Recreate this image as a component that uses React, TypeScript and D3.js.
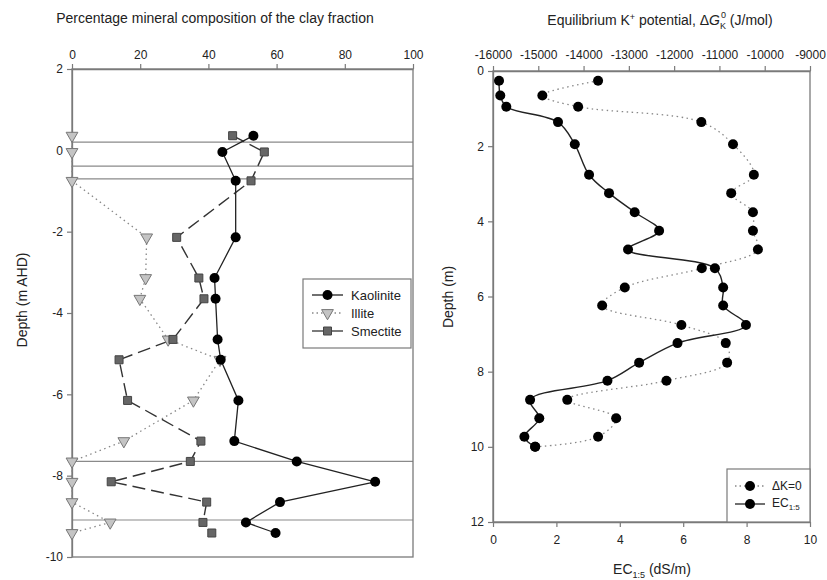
import { useRef, useEffect } from 'react';
import * as d3 from 'd3';

// left panel: clay mineralogy vs depth (m AHD)
const clayDepths = [0.36, -0.04, -0.75, -2.14, -3.14, -3.65, -4.65, -5.15, -6.15, -7.15, -7.65, -8.15, -8.65, -9.15, -9.41];
const kaolinite = [53.2, 44.1, 48.0, 48.0, 41.8, 42.1, 42.7, 43.6, 48.8, 47.6, 65.9, 88.9, 61.0, 51.0, 59.7];
const illite = [0, 0, 0, 21.9, 21.6, 19.9, 28.2, 43.4, 35.6, 15.2, 0, 0, 0, 11.2, 0];
const smectite = [47.1, 56.4, 52.5, 30.7, 37.2, 38.7, 29.6, 13.8, 16.3, 37.8, 34.7, 11.5, 39.5, 38.4, 41.0];
const boundaryDepths = [0.2, -0.39, -0.7, -7.65, -9.09];
const pctTicks = [0, 20, 40, 60, 80, 100];
const ahdTicks = [2, 0, -2, -4, -6, -8, -10];

// right panel: EC and equilibrium K potential vs depth (m)
const ecDepths = [0.26, 0.65, 0.95, 1.36, 1.95, 2.76, 3.25, 3.76, 4.25, 4.75, 5.25, 5.76, 6.24, 6.76, 7.24, 7.76, 8.24, 8.75, 9.24, 9.73, 10.0];
const ec15 = [0.19, 0.23, 0.42, 2.05, 2.58, 3.03, 3.66, 4.47, 5.24, 4.26, 7.0, 7.26, 7.26, 7.98, 5.82, 4.61, 3.61, 1.17, 1.46, 0.99, 1.33];
const deltaK0 = [-13680, -14910, -14120, -11400, -10700, -10240, -10740, -10260, -10260, -10150, -11390, -13090, -13590, -11840, -10860, -10830, -12170, -14360, -13280, -13680, -15070];
const ecTicks = [0, 2, 4, 6, 8, 10];
const gTicks = [-16000, -15000, -14000, -13000, -12000, -11000, -10000, -9000];
const depthTicks = [0, 2, 4, 6, 8, 10, 12];

const FONT = '"Liberation Sans", Arial, sans-serif';
const AXIS = '#7a7a7a';
const R = 5;

function App() {
    const svgRef = useRef(null);

    useEffect(() => {
        const svg = d3.select(svgRef.current);
        svg.selectAll('*').remove();
        svg.style('font-family', FONT);

        const styleAxis = (g) => {
            g.selectAll('path').attr('stroke', AXIS).attr('stroke-width', 1.3);
            g.selectAll('line').attr('stroke', AXIS).attr('stroke-width', 1.2);
            g.selectAll('text').attr('fill', '#222').style('font-size', '12px').style('font-family', FONT);
        };

        // ---------- left panel ----------
        const xL = d3.scaleLinear().domain([0, 100]).range([72, 413]);
        const yL = d3.scaleLinear().domain([2, -10]).range([69, 557]);

        const left = svg.append('g');

        left.selectAll('line.bound')
            .data(boundaryDepths)
            .enter()
            .append('line')
            .attr('x1', xL(0)).attr('x2', xL(100))
            .attr('y1', d => yL(d)).attr('y2', d => yL(d))
            .attr('stroke', '#8a8a8a').attr('stroke-width', 1.2);

        left.append('rect')
            .attr('x', xL(0)).attr('y', yL(2))
            .attr('width', xL(100) - xL(0)).attr('height', yL(-10) - yL(2))
            .attr('fill', 'none').attr('stroke', AXIS).attr('stroke-width', 1.3);

        left.append('g')
            .attr('transform', `translate(0,${yL(2)})`)
            .call(d3.axisTop(xL).tickValues(pctTicks).tickSize(5).tickSizeOuter(0).tickPadding(5).tickFormat(d => String(d)))
            .call(styleAxis);
        left.append('g')
            .attr('transform', `translate(${xL(0)},0)`)
            .call(d3.axisLeft(yL).tickValues(ahdTicks).tickSize(5).tickSizeOuter(0).tickPadding(4).tickFormat(d => String(d)))
            .call(styleAxis);

        const lineL = (vals) => d3.line()
            .x((d, i) => xL(vals[i]))
            .y((d) => yL(d));

        left.append('path')
            .attr('d', lineL(illite)(clayDepths))
            .attr('fill', 'none').attr('stroke', '#888').attr('stroke-width', 1.3)
            .attr('stroke-dasharray', '1.5,3.5');
        left.append('path')
            .attr('d', lineL(smectite)(clayDepths.slice(0, -1)))
            .attr('fill', 'none').attr('stroke', '#333').attr('stroke-width', 1.4)
            .attr('stroke-dasharray', '13,6');
        left.append('path')
            .attr('d', lineL(kaolinite)(clayDepths))
            .attr('fill', 'none').attr('stroke', '#222').attr('stroke-width', 1.3);

        const tri = d3.symbol().type(d3.symbolTriangle).size(60)();
        const sq = d3.symbol().type(d3.symbolSquare).size(64)();

        left.selectAll('path.ill')
            .data(clayDepths)
            .enter()
            .append('path')
            .attr('d', tri)
            .attr('transform', (d, i) => `translate(${xL(illite[i])},${yL(d)}) rotate(180)`)
            .attr('fill', '#c4c4c4').attr('stroke', '#777').attr('stroke-width', 1);
        left.selectAll('path.sme')
            .data(clayDepths)
            .enter()
            .append('path')
            .attr('d', sq)
            .attr('transform', (d, i) => `translate(${xL(smectite[i])},${yL(d)})`)
            .attr('fill', '#666').attr('stroke', '#444').attr('stroke-width', 1);
        left.selectAll('circle.kao')
            .data(clayDepths)
            .enter()
            .append('circle')
            .attr('cx', (d, i) => xL(kaolinite[i])).attr('cy', d => yL(d))
            .attr('r', R).attr('fill', '#000');

        left.append('text')
            .attr('x', 215).attr('y', 23)
            .attr('text-anchor', 'middle').style('font-size', '14px').attr('fill', '#222')
            .text('Percentage mineral composition of the clay fraction');
        left.append('text')
            .attr('transform', 'translate(27,300) rotate(-90)')
            .attr('text-anchor', 'middle').style('font-size', '14px').attr('fill', '#222')
            .text('Depth (m AHD)');

        // legend left
        const legL = left.append('g');
        legL.append('rect')
            .attr('x', 303).attr('y', 279).attr('width', 108).attr('height', 69)
            .attr('fill', '#fff').attr('stroke', AXIS).attr('stroke-width', 1.2);
        const legItems = [
            { name: 'Kaolinite', dash: null, stroke: '#222', mark: 'c' },
            { name: 'Illite', dash: '1.5,3', stroke: '#888', mark: 't' },
            { name: 'Smectite', dash: null, stroke: '#333', mark: 's' },
        ];
        legItems.forEach((it, i) => {
            const yy = 295 + i * 18;
            legL.append('line')
                .attr('x1', 312).attr('x2', 343).attr('y1', yy).attr('y2', yy)
                .attr('stroke', it.stroke).attr('stroke-width', 1.3)
                .attr('stroke-dasharray', it.dash);
            if (it.mark === 'c') {
                legL.append('circle').attr('cx', 327.5).attr('cy', yy).attr('r', R).attr('fill', '#000');
            } else if (it.mark === 't') {
                legL.append('path').attr('d', tri)
                    .attr('transform', `translate(327.5,${yy}) rotate(180)`)
                    .attr('fill', '#c4c4c4').attr('stroke', '#777');
            } else {
                legL.append('path').attr('d', sq)
                    .attr('transform', `translate(327.5,${yy})`)
                    .attr('fill', '#666').attr('stroke', '#444');
            }
            legL.append('text')
                .attr('x', 351).attr('y', yy).attr('dy', '0.35em')
                .style('font-size', '13px').attr('fill', '#222')
                .text(it.name);
        });

        // ---------- right panel ----------
        const xR = d3.scaleLinear().domain([0, 10]).range([493, 810]);
        const xG = d3.scaleLinear().domain([-16000, -9000]).range([493, 810]);
        const yR = d3.scaleLinear().domain([0, 12]).range([71, 522]);

        const right = svg.append('g');
        right.append('rect')
            .attr('x', xR(0)).attr('y', yR(0))
            .attr('width', xR(10) - xR(0)).attr('height', yR(12) - yR(0))
            .attr('fill', 'none').attr('stroke', AXIS).attr('stroke-width', 1.3);

        right.append('g')
            .attr('transform', `translate(0,${yR(0)})`)
            .call(d3.axisTop(xG).tickValues(gTicks).tickSize(5).tickSizeOuter(0).tickPadding(7).tickFormat(d => String(d)))
            .call(styleAxis);
        right.append('g')
            .attr('transform', `translate(0,${yR(12)})`)
            .call(d3.axisBottom(xR).tickValues(ecTicks).tickSize(5).tickSizeOuter(0).tickPadding(8).tickFormat(d => String(d)))
            .call(styleAxis);
        right.append('g')
            .attr('transform', `translate(${xR(0)},0)`)
            .call(d3.axisLeft(yR).tickValues(depthTicks).tickSize(5).tickSizeOuter(0).tickPadding(4).tickFormat(d => String(d)))
            .call(styleAxis);

        const curve = d3.curveCatmullRom.alpha(0.5);
        const gLine = d3.line().x((d, i) => xG(deltaK0[i])).y(d => yR(d)).curve(curve);
        const ecLine = d3.line().x((d, i) => xR(ec15[i])).y(d => yR(d)).curve(curve);

        right.append('path')
            .attr('d', gLine(ecDepths))
            .attr('fill', 'none').attr('stroke', '#888').attr('stroke-width', 1.3)
            .attr('stroke-dasharray', '1.5,3.5');
        right.append('path')
            .attr('d', ecLine(ecDepths))
            .attr('fill', 'none').attr('stroke', '#222').attr('stroke-width', 1.4);

        right.selectAll('circle.g')
            .data(ecDepths)
            .enter()
            .append('circle')
            .attr('cx', (d, i) => xG(deltaK0[i])).attr('cy', d => yR(d))
            .attr('r', R).attr('fill', '#000');
        right.selectAll('circle.ec')
            .data(ecDepths)
            .enter()
            .append('circle')
            .attr('cx', (d, i) => xR(ec15[i])).attr('cy', d => yR(d))
            .attr('r', R).attr('fill', '#000');

        // titles right
        const tTop = right.append('text')
            .attr('x', 660).attr('y', 25)
            .attr('text-anchor', 'middle').style('font-size', '14px').attr('fill', '#222');
        tTop.append('tspan').text('Equilibrium K');
        tTop.append('tspan').attr('dy', -5).style('font-size', '9px').text('+');
        tTop.append('tspan').attr('dy', 5).text(' potential, \u0394');
        tTop.append('tspan').style('font-style', 'italic').text('G');
        tTop.append('tspan').attr('dy', 4).style('font-size', '9px').text('K');
        tTop.append('tspan').attr('dx', -5).attr('dy', -11).style('font-size', '9px').text('0');
        tTop.append('tspan').attr('dy', 7).text(' (J/mol)');

        const tBot = right.append('text')
            .attr('x', 652).attr('y', 574)
            .attr('text-anchor', 'middle').style('font-size', '14px').attr('fill', '#222');
        tBot.append('tspan').text('EC');
        tBot.append('tspan').attr('dy', 4).style('font-size', '9px').text('1:5');
        tBot.append('tspan').attr('dy', -4).text(' (dS/m)');

        right.append('text')
            .attr('transform', 'translate(453,297) rotate(-90)')
            .attr('text-anchor', 'middle').style('font-size', '14px').attr('fill', '#222')
            .text('Depth (m)');

        // legend right
        const legR = right.append('g');
        legR.append('rect')
            .attr('x', 727).attr('y', 469).attr('width', 83).attr('height', 53)
            .attr('fill', '#fff').attr('stroke', AXIS).attr('stroke-width', 1.2);
        [
            { dash: '1.5,3', stroke: '#888', y: 486 },
            { dash: null, stroke: '#222', y: 504 },
        ].forEach((it) => {
            legR.append('line')
                .attr('x1', 735).attr('x2', 765).attr('y1', it.y).attr('y2', it.y)
                .attr('stroke', it.stroke).attr('stroke-width', 1.3)
                .attr('stroke-dasharray', it.dash);
            legR.append('circle').attr('cx', 750).attr('cy', it.y).attr('r', R).attr('fill', '#000');
        });
        legR.append('text')
            .attr('x', 772).attr('y', 486).attr('dy', '0.35em')
            .style('font-size', '12px').attr('fill', '#222')
            .text('\u0394K=0');
        const lt = legR.append('text')
            .attr('x', 772).attr('y', 503).attr('dy', '0.35em')
            .style('font-size', '12px').attr('fill', '#222');
        lt.append('tspan').text('EC');
        lt.append('tspan').attr('dy', 3).style('font-size', '8px').text('1:5');
    }, []);

    return (
        <svg
            ref={svgRef}
            width={827}
            height={580}
            style={{ position: 'absolute', left: 0, top: 0, background: '#fff' }}
        ></svg>
    );
}

export default App;
